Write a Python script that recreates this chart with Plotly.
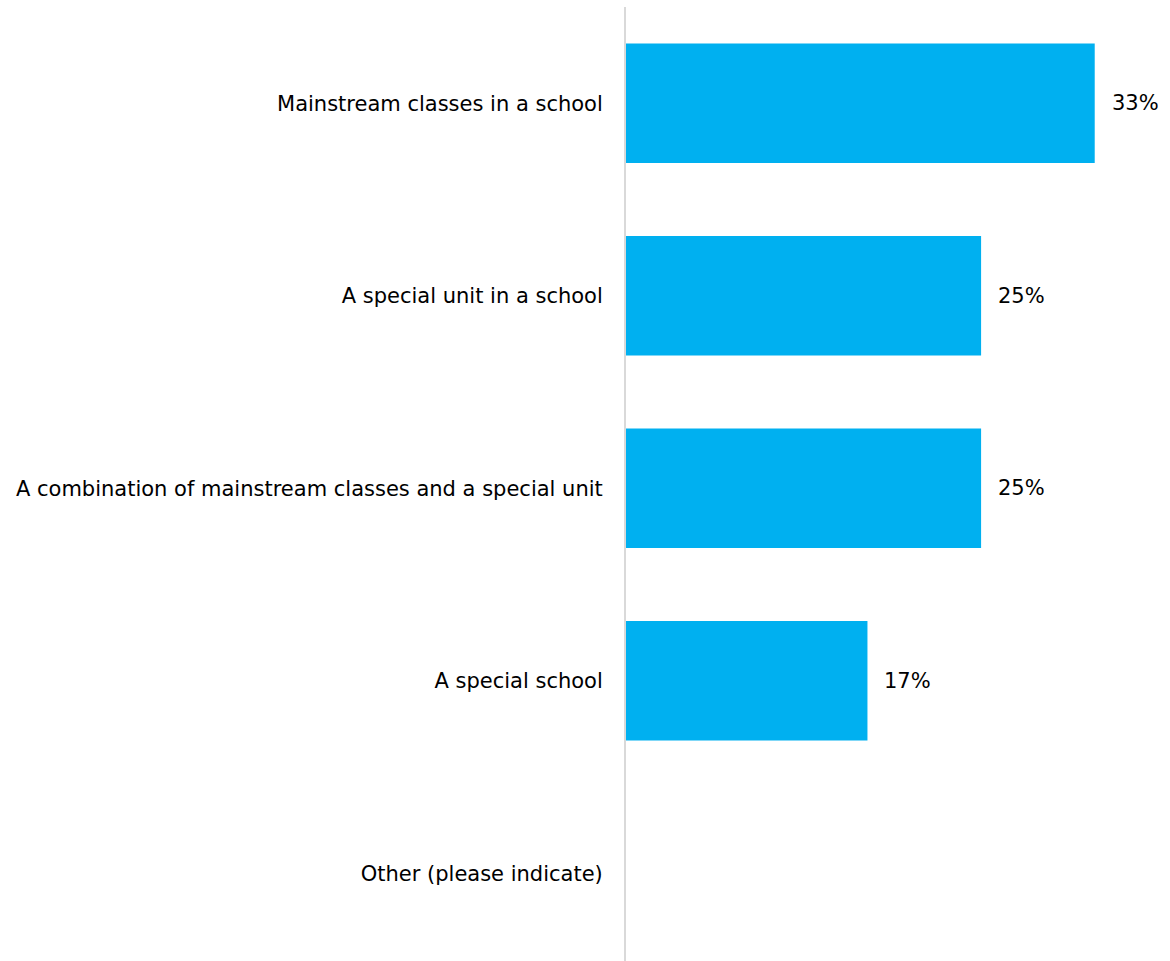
import plotly.graph_objects as go

categories = [
    "Mainstream classes in a school",
    "A special unit in a school",
    "A combination of mainstream classes and a special unit",
    "A special school",
    "Other (please indicate)",
]
values = [33, 25, 25, 17, 0]
value_labels = [f"{v}%" if v > 0 else "" for v in values]

FONT = "DejaVu Sans"
BAR_COLOR = "#00B0F0"

fig = go.Figure()
fig.add_trace(go.Bar(
    x=values,
    y=categories,
    orientation="h",
    marker=dict(color=BAR_COLOR, line=dict(width=0)),
    width=0.62,
    hoverinfo="skip",
))

# value labels to the right of each bar
for cat, v, lab in zip(categories, values, value_labels):
    if lab:
        fig.add_annotation(
            x=v, y=cat, text=lab, showarrow=False,
            xanchor="left", yanchor="middle", xshift=15,
            font=dict(family=FONT, size=21, color="#000000"),
        )

fig.update_layout(
    width=1170,
    height=961,
    margin=dict(l=626, r=0, t=7, b=0),
    paper_bgcolor="white",
    plot_bgcolor="white",
    showlegend=False,
    font=dict(family=FONT, size=21, color="#000000"),
    xaxis=dict(
        range=[0, 38.3],
        visible=False,
        showgrid=False,
        zeroline=False,
    ),
    yaxis=dict(
        categoryorder="array",
        categoryarray=categories,
        range=[4.456, -0.5],
        showgrid=False,
        zeroline=False,
        showline=True,
        linecolor="#D9D9D9",
        linewidth=2,
        ticks="",
        ticklabelstandoff=17,
        tickfont=dict(family=FONT, size=21, color="#000000"),
        automargin=False,
    ),
)

fig.write_html("out.html")
